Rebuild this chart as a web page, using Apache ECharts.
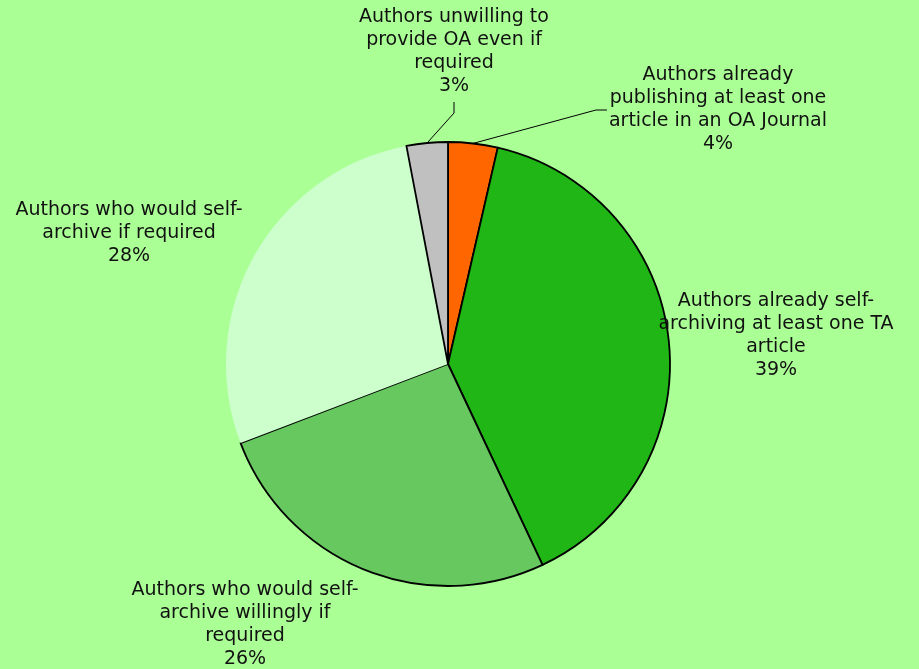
<!DOCTYPE html>
<html>
<head>
<meta charset="utf-8">
<script src="https://cdn.jsdelivr.net/npm/echarts@6/dist/echarts.min.js"></script>
<style>html,body{margin:0;padding:0;background:#AAFF95;}#chart{width:919px;height:669px;}</style>
</head>
<body>
<div id="chart"></div>
<script>
const categories = [
  'Authors already\npublishing at least one\narticle in an OA Journal',
  'Authors already self-\narchiving at least one TA\narticle',
  'Authors who would self-\narchive willingly if\nrequired',
  'Authors who would self-\narchive if required',
  'Authors unwilling to\nprovide OA even if\nrequired'
];
const values = [3.6, 39.4, 26.2, 27.8, 3.0];

const colors = ['#FF6600', '#1FB616', '#66C85E', '#CCFFCC', '#C0C0C0'];
const borders = [1.8, 1.8, 1.8, 0, 1.8];
const labelPlacement = [
  {cx: 718, top: 64, line: 'left'},
  {cx: 776, top: 290},
  {cx: 245, top: 579},
  {cx: 129, top: 199},
  {cx: 454, top: 6, line: 'bottom'}
];

const chart = echarts.init(document.getElementById('chart'));
chart.setOption({
  backgroundColor: '#AAFF95',
  animation: false,
  series: [{
    type: 'pie',
    center: [448, 364],
    radius: 222,
    startAngle: 90,
    clockwise: true,
    avoidLabelOverlap: false,
    label: {
      show: true,
      position: 'outside',
      formatter: p => p.name + '\n' + Math.round(p.value) + '%',
      fontFamily: 'DejaVu Sans',
      fontSize: 19,
      lineHeight: 23,
      color: '#111',
      align: 'center'
    },
    labelLine: {show: true, lineStyle: {color: '#000', width: 1}, length: 10, length2: 10},
    labelLayout: function (params) {
      const p = labelPlacement[params.dataIndex];
      const r = params.labelRect;
      const res = {x: p.cx, y: p.top, align: 'center', verticalAlign: 'top'};
      if (p.line && params.labelLinePoints) {
        const start = params.labelLinePoints[0];
        if (p.line === 'left') {
          const endX = p.cx - r.width / 2 - 2;
          const endY = p.top + r.height / 2;
          res.labelLinePoints = [start, [endX - 11, endY], [endX, endY]];
        } else {
          const endX = p.cx;
          const endY = p.top + r.height + 4;
          res.labelLinePoints = [start, [endX, endY + 11], [endX, endY]];
        }
      }
      return res;
    },
    data: values.map((v, i) => ({
      name: categories[i],
      value: v,
      itemStyle: {color: colors[i], borderColor: '#000', borderWidth: borders[i]},
      labelLine: {show: i === 0 || i === 4}
    }))
  }]
});
</script>
</body>
</html>
